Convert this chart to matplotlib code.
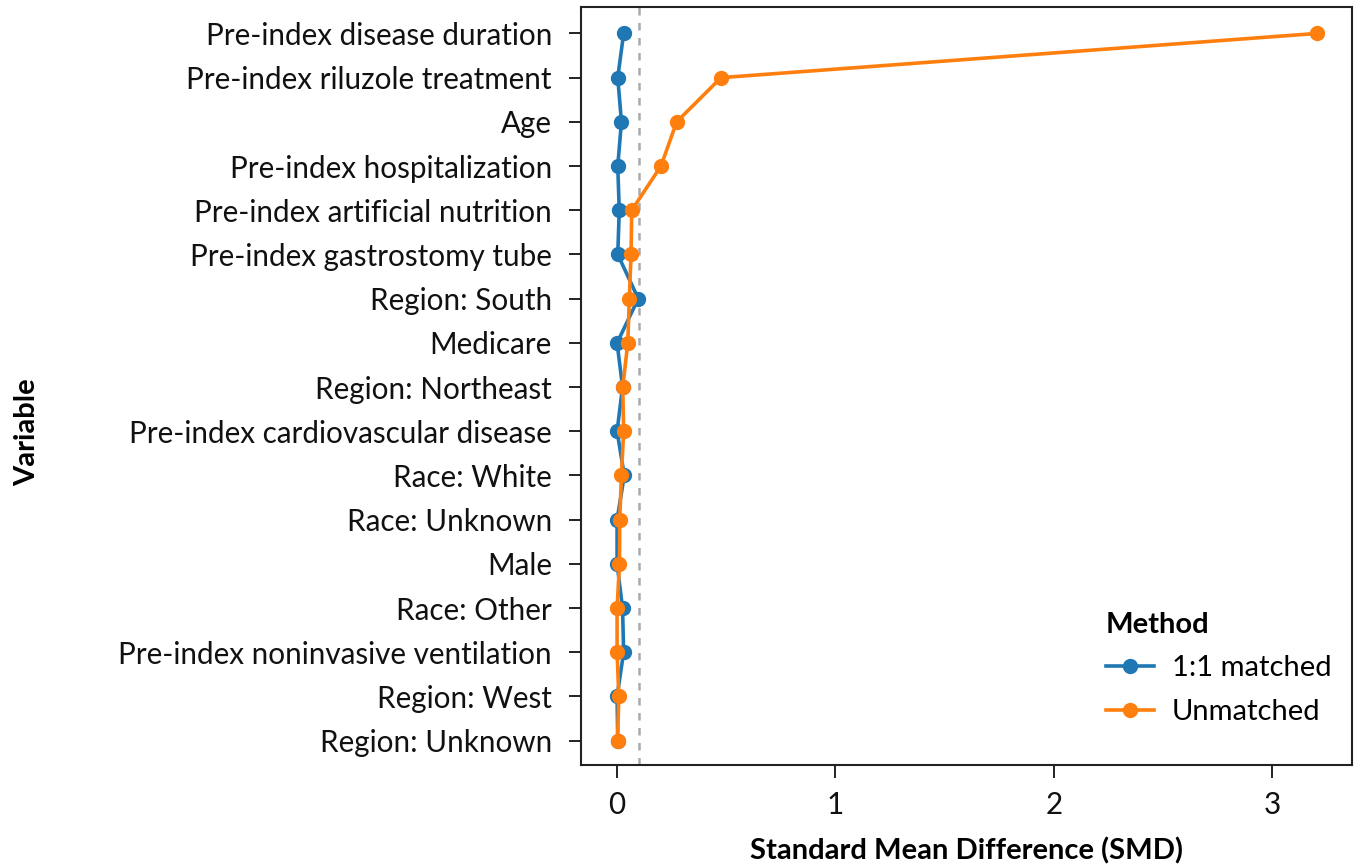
import matplotlib.pyplot as plt
import numpy as np

plt.rcParams['font.family'] = ['Lato', 'DejaVu Sans']

# variables, top to bottom
variables = ['Pre-index disease duration', 'Pre-index riluzole treatment', 'Age',
             'Pre-index hospitalization', 'Pre-index artificial nutrition',
             'Pre-index gastrostomy tube', 'Region: South', 'Medicare',
             'Region: Northeast', 'Pre-index cardiovascular disease', 'Race: White',
             'Race: Unknown', 'Male', 'Race: Other', 'Pre-index noninvasive ventilation',
             'Region: West', 'Region: Unknown']

smd_matched = [0.030, 0.003, 0.020, 0.003, 0.010, 0.003, 0.097, 0.000, 0.025,
               0.000, 0.033, 0.000, 0.000, 0.025, 0.030, 0.000, 0.003]
smd_unmatched = [3.205, 0.476, 0.273, 0.201, 0.067, 0.064, 0.056, 0.049, 0.026,
                 0.030, 0.020, 0.012, 0.011, 0.000, 0.000, 0.008, 0.002]

threshold = 0.1

y = np.arange(len(variables))[::-1]

fig = plt.figure(figsize=(13.64, 8.65), dpi=100)
ax = fig.add_axes([0.426, 0.1156, 0.565, 0.8764])

ax.axvline(threshold, color='#aaaaaa', ls=(0, (3, 3)), lw=1.8, zorder=1)
ax.plot(smd_matched, y, '-o', color='#1f77b4', lw=2.6, ms=10, label='1:1 matched', zorder=2)
ax.plot(smd_unmatched, y, '-o', color='#ff7f0e', lw=2.6, ms=10, label='Unmatched', zorder=3)

ax.set_yticks(y)
ax.set_yticklabels(variables)
ax.set_xticks([0, 1, 2, 3])
ax.set_xlim(-0.165, 3.365)
ax.set_ylim(-0.55, 16.6)
ax.tick_params(axis='both', labelsize=21.3, length=9, width=1.3, colors='#111111')
ax.tick_params(axis='y', pad=12)
ax.tick_params(axis='x', pad=10)
for s in ax.spines.values():
    s.set_linewidth(1.5)
    s.set_color('#222222')

ax.set_xlabel('Standard Mean Difference (SMD)', fontsize=21, fontweight='bold', labelpad=13)
fig.text(0.02, 0.5, 'Variable', rotation=90, fontsize=21, fontweight='bold',
         ha='center', va='center')

leg = ax.legend(title='Method', loc='lower right', frameon=False, fontsize=21,
                title_fontsize=21, handlelength=1.65, handletextpad=0.6,
                labelspacing=0.6, borderaxespad=0.3, bbox_to_anchor=(1.0, 0.026))
leg.get_title().set_fontweight('bold')
leg._legend_box.align = 'left'

fig.savefig('out.png', dpi=100)
